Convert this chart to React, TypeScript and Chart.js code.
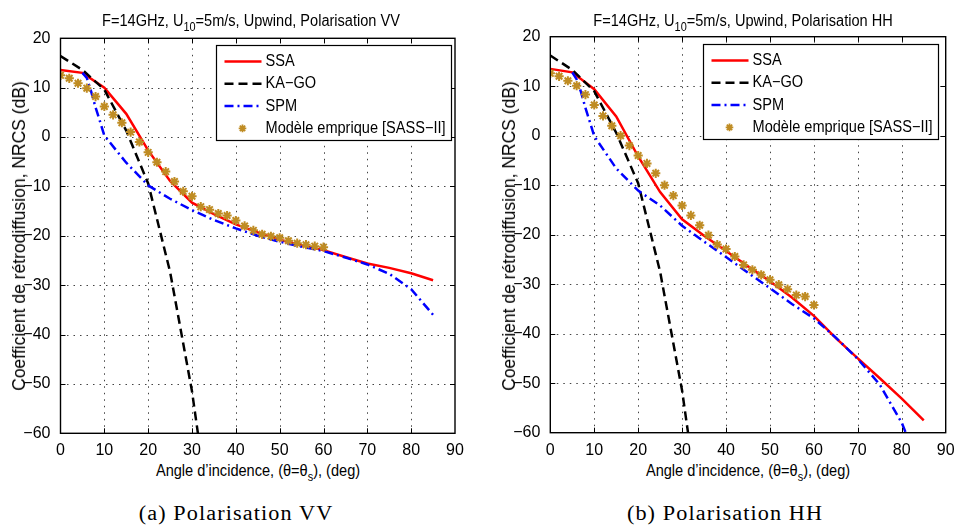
import React, { useEffect, useRef } from 'react';
import { Chart, registerables } from 'chart.js';
Chart.register(...registerables);

// ---------- data ----------
const ssaAngles = [0, 5, 10, 15, 20, 25, 30, 35, 40, 45, 50, 55, 60, 65, 70, 75, 80, 85];
const ssaVV = [13.6, 13.0, 10.0, 4.7, -2.7, -8.9, -13.3, -15.6, -17.7, -19.3, -20.8, -21.9, -22.9, -24.3, -25.6, -26.5, -27.6, -29.0];
const ssaHH = [13.5, 12.8, 9.4, 3.9, -4.2, -11.4, -16.9, -20.2, -23.3, -26.4, -29.4, -32.7, -36.4, -40.9, -45.0, -49.0, -53.1, -57.5];

const kaAngles = [0, 5, 10, 15, 20, 25, 30, 35];
const kaVV = [16.4, 13.6, 9.6, 1.3, -9.4, -27.3, -51.5, -83.0];
const kaHH = [16.2, 13.3, 9.0, 0.6, -9.6, -27.5, -51.5, -83.0];

const spmAngles = [5, 6, 7, 8, 9, 10, 15, 20, 25, 30, 35, 40, 45, 50, 55, 60, 65, 70, 75, 80, 85];
const spmVV = [13.0, 12.0, 9.2, 6.0, 3.2, 0.3, -5.2, -9.8, -12.5, -14.8, -16.8, -18.5, -20.0, -21.2, -22.2, -23.1, -24.4, -25.8, -27.7, -30.8, -36.0];
const spmHH = [12.8, 11.4, 8.8, 5.6, 2.8, -0.1, -6.6, -11.1, -14.1, -18.2, -21.4, -24.5, -27.7, -30.8, -34.0, -36.9, -40.8, -45.1, -50.3, -58.0, -69.0];

const sassAngles = [0, 2, 4, 6, 8, 10, 12, 14, 16, 18, 20, 22, 24, 26, 28, 30, 32, 34, 36, 38, 40, 42, 44, 46, 48, 50, 52, 54, 56, 58, 60];
const sassVV = [12.5, 11.9, 10.9, 9.9, 8.2, 6.2, 4.5, 2.9, 1.0, -1.0, -3.1, -5.1, -7.0, -9.0, -11.0, -12.0, -14.1, -14.7, -15.5, -15.9, -16.9, -18.0, -18.9, -19.7, -20.1, -20.4, -21.0, -21.5, -21.8, -22.1, -22.3];
const sassHH = [12.6, 12.0, 11.1, 10.1, 8.3, 6.2, 4.0, 2.0, 0.0, -2.0, -4.0, -5.6, -7.6, -10.0, -12.1, -14.1, -16.1, -18.1, -20.1, -22.0, -22.9, -24.4, -26.1, -27.1, -28.1, -29.1, -30.1, -31.0, -32.2, -32.5, -34.2];

const xTicks = [0, 10, 20, 30, 40, 50, 60, 70, 80, 90];
const yTicks = [-60, -50, -40, -30, -20, -10, 0, 10, 20];
const legendLabels = ['SSA', 'KA\u2212GO', 'SPM', 'Mod\u00e8le emprique [SASS\u2212II]'];

// ---------- styles ----------
const FONT = '"Liberation Sans", Arial, sans-serif';
const SERIF = '"Liberation Serif", "Times New Roman", serif';
const RED = '#ff0000';
const BLACK = '#000000';
const BLUE = '#0000ff';
const GOLD = 'rgb(191,140,35)';
const KA_DASH = [9, 5];
const SPM_DASH = [9, 4, 2, 4];
const CANVAS_H = 460;

const toPts = (xs: number[], ys: number[]) => xs.map((x, i) => ({ x, y: ys[i] }));
const fmt = (v: any) => String(v).replace('-', '\u2212');

function drawStar(ctx: CanvasRenderingContext2D, x: number, y: number, r: number) {
  ctx.beginPath();
  for (let k = 0; k < 4; k++) {
    const a = (k * Math.PI) / 4;
    ctx.moveTo(x - r * Math.cos(a), y - r * Math.sin(a));
    ctx.lineTo(x + r * Math.cos(a), y + r * Math.sin(a));
  }
  ctx.stroke();
}

const framePlugin = {
  id: 'frame',
  beforeDatasetsDraw(chart: any) {
    const { ctx, chartArea } = chart;
    const { left, right, top, bottom } = chartArea;
    const xs = chart.scales.x, ys = chart.scales.y;
    ctx.save();
    ctx.strokeStyle = '#444';
    ctx.lineWidth = 1;
    ctx.setLineDash([1.5, 5]);
    xTicks.slice(1, -1).forEach((v) => {
      const px = Math.round(xs.getPixelForValue(v)) + 0.5;
      ctx.beginPath(); ctx.moveTo(px, bottom); ctx.lineTo(px, top); ctx.stroke();
    });
    yTicks.slice(1, -1).forEach((v) => {
      const py = Math.round(ys.getPixelForValue(v)) + 0.5;
      ctx.beginPath(); ctx.moveTo(left, py); ctx.lineTo(right, py); ctx.stroke();
    });
    ctx.restore();
  },
  afterDatasetsDraw(chart: any, _args: any, opts: any) {
    const { ctx, chartArea } = chart;
    const { left, right, top, bottom } = chartArea;
    const xs = chart.scales.x, ys = chart.scales.y;
    ctx.save();
    ctx.strokeStyle = '#000';
    ctx.lineWidth = 1.4;
    ctx.setLineDash([]);
    ctx.strokeRect(left, top, right - left, bottom - top);
    ctx.lineWidth = 1;
    const tl = 5;
    xTicks.slice(1, -1).forEach((v) => {
      const px = Math.round(xs.getPixelForValue(v)) + 0.5;
      ctx.beginPath();
      ctx.moveTo(px, bottom); ctx.lineTo(px, bottom - tl);
      ctx.moveTo(px, top); ctx.lineTo(px, top + tl);
      ctx.stroke();
    });
    yTicks.slice(1, -1).forEach((v) => {
      const py = Math.round(ys.getPixelForValue(v)) + 0.5;
      ctx.beginPath();
      ctx.moveTo(left, py); ctx.lineTo(left + tl, py);
      ctx.moveTo(right, py); ctx.lineTo(right - tl, py);
      ctx.stroke();
    });

    // legend
    const bx = Math.round(left + opts.legendX) + 0.5;
    const by = Math.round(top + opts.legendY) + 0.5;
    const bw = 235, bh = 95;
    ctx.fillStyle = '#fff';
    ctx.fillRect(bx, by, bw, bh);
    ctx.strokeStyle = '#000';
    ctx.lineWidth = 1.2;
    ctx.strokeRect(bx, by, bw, bh);
    const rows = [16, 38.3, 60.6, 82.9];
    const styles = [
      { c: RED, d: [] as number[] },
      { c: BLACK, d: KA_DASH },
      { c: BLUE, d: SPM_DASH },
    ];
    styles.forEach((s, i) => {
      ctx.save();
      ctx.strokeStyle = s.c;
      ctx.lineWidth = 2.5;
      ctx.setLineDash(s.d);
      ctx.beginPath();
      ctx.moveTo(bx + 8, by + rows[i]);
      ctx.lineTo(bx + 45, by + rows[i]);
      ctx.stroke();
      ctx.restore();
    });
    ctx.strokeStyle = GOLD;
    ctx.lineWidth = 1.8;
    drawStar(ctx, bx + 26, by + rows[3], 3.8);
    ctx.fillStyle = '#000';
    ctx.font = `16px ${FONT}`;
    ctx.textBaseline = 'middle';
    ctx.textAlign = 'left';
    legendLabels.forEach((lab, i) => {
      ctx.save();
      ctx.translate(bx + 49, by + rows[i]);
      ctx.scale(0.91, 1);
      ctx.fillText(lab, 0, 0);
      ctx.restore();
    });
    ctx.restore();
  },
};

type PanelCfg = {
  canvasLeft: number;
  canvasWidth: number;
  areaLeft: number;
  areaRight: number;
  areaTop: number;
  areaBottom: number;
  legendX: number;
  legendY: number;
  ssa: number[];
  ka: number[];
  spm: number[];
  sass: number[];
};

function Panel({ cfg }: { cfg: PanelCfg }) {
  const ref = useRef<HTMLCanvasElement>(null);
  useEffect(() => {
    const yAxisW = cfg.areaLeft - cfg.canvasLeft;
    const xAxisH = CANVAS_H - cfg.areaBottom;
    const padRight = cfg.canvasLeft + cfg.canvasWidth - cfg.areaRight;
    const chart = new Chart(ref.current as HTMLCanvasElement, {
      type: 'scatter',
      data: {
        datasets: [
          {
            label: legendLabels[3],
            data: toPts(sassAngles, cfg.sass),
            showLine: false,
            pointStyle: 'star',
            pointRadius: 4.6,
            pointBorderWidth: 2,
            pointBorderColor: GOLD,
            pointBackgroundColor: GOLD,
            order: 1,
          },
          {
            label: legendLabels[2],
            data: toPts(spmAngles, cfg.spm),
            showLine: true,
            borderColor: BLUE,
            borderWidth: 2.5,
            borderDash: SPM_DASH,
            pointRadius: 0,
            order: 2,
          },
          {
            label: legendLabels[1],
            data: toPts(kaAngles, cfg.ka),
            showLine: true,
            borderColor: BLACK,
            borderWidth: 2.5,
            borderDash: KA_DASH,
            pointRadius: 0,
            order: 3,
          },
          {
            label: legendLabels[0],
            data: toPts(ssaAngles, cfg.ssa),
            showLine: true,
            borderColor: RED,
            borderWidth: 2.5,
            pointRadius: 0,
            order: 4,
          },
        ],
      } as any,
      options: {
        animation: false,
        responsive: false,
        events: [],
        layout: { padding: { left: 0, top: cfg.areaTop, right: padRight, bottom: 0 } },
        plugins: {
          legend: { display: false },
          tooltip: { enabled: false },
          title: { display: false },
          frame: { legendX: cfg.legendX, legendY: cfg.legendY },
        } as any,
        scales: {
          x: {
            type: 'linear',
            min: 0,
            max: 90,
            afterBuildTicks: (s: any) => { s.ticks = xTicks.map((v) => ({ value: v })); },
            afterFit: (s: any) => { s.height = xAxisH; s.paddingLeft = 0; s.paddingRight = 0; },
            grid: { display: false },
            border: { display: false },
            ticks: { font: { family: FONT, size: 16 }, color: '#000', padding: 0, maxRotation: 0, autoSkip: false, callback: fmt },
          },
          y: {
            type: 'linear',
            min: -60,
            max: 20,
            afterBuildTicks: (s: any) => { s.ticks = yTicks.map((v) => ({ value: v })); },
            afterFit: (s: any) => { s.width = yAxisW; s.paddingTop = 0; s.paddingBottom = 0; },
            grid: { display: false },
            border: { display: false },
            ticks: { font: { family: FONT, size: 16 }, color: '#000', padding: 2, autoSkip: false, callback: fmt },
          },
        } as any,
      },
      plugins: [framePlugin as any],
    });
    return () => chart.destroy();
  }, []);
  return (
    <canvas
      ref={ref}
      width={cfg.canvasWidth}
      height={CANVAS_H}
      style={{ position: 'absolute', left: cfg.canvasLeft, top: 0, width: cfg.canvasWidth, height: CANVAS_H }}
    />
  );
}

function HText({ cx, top, size, children, sx = 0.91, family = FONT, ls = 0 }: any) {
  return (
    <div
      style={{
        position: 'absolute',
        left: cx,
        top,
        fontFamily: family,
        fontSize: size,
        lineHeight: `${size}px`,
        whiteSpace: 'nowrap',
        letterSpacing: ls,
        color: '#000',
        transform: `translateX(-50%) scaleX(${sx})`,
      }}
    >
      {children}
    </div>
  );
}

function YLabel({ cx, cy }: { cx: number; cy: number }) {
  return (
    <div
      style={{
        position: 'absolute',
        left: cx,
        top: cy,
        fontFamily: FONT,
        fontSize: 17.5,
        lineHeight: '18px',
        whiteSpace: 'nowrap',
        color: '#000',
        transform: 'translate(-50%, -50%) rotate(-90deg)',
      }}
    >
      Coefficient de rétrodiffusion, NRCS (dB)
    </div>
  );
}

const sub: React.CSSProperties = { fontSize: 12, position: 'relative', top: 5 };

const panels: { cfg: PanelCfg; titleCx: number; xlabCx: number; ylabCx: number; capCx: number; pol: string; cap: string }[] = [
  {
    cfg: { canvasLeft: 0, canvasWidth: 478, areaLeft: 60.5, areaRight: 455, areaTop: 38.3, areaBottom: 433.3, legendX: 155.5, legendY: 6.7, ssa: ssaVV, ka: kaVV, spm: spmVV, sass: sassVV },
    titleCx: 251, xlabCx: 257.5, ylabCx: 19, capCx: 236, pol: 'VV', cap: '(a) Polarisation VV',
  },
  {
    cfg: { canvasLeft: 490, canvasWidth: 466, areaLeft: 550.3, areaRight: 945.7, areaTop: 36.7, areaBottom: 432.7, legendX: 152.7, legendY: 7.3, ssa: ssaHH, ka: kaHH, spm: spmHH, sass: sassHH },
    titleCx: 743.3, xlabCx: 748.3, ylabCx: 509, capCx: 725, pol: 'HH', cap: '(b) Polarisation HH',
  },
];

export default function App() {
  return (
    <div style={{ position: 'absolute', left: 0, top: 0, width: 956, height: 527, overflow: 'hidden', background: '#fff' }}>
      {panels.map((p, i) => (
        <React.Fragment key={i}>
          <Panel cfg={p.cfg} />
          <HText cx={p.titleCx} top={13} size={16}>
            F=14GHz, U<span style={sub}>10</span>=5m/s, Upwind, Polarisation {p.pol}
          </HText>
          <HText cx={p.xlabCx} top={462.5} size={16}>
            Angle d’incidence, (θ=θ<span style={sub}>s</span>), (deg)
          </HText>
          <YLabel cx={p.ylabCx} cy={236} />
          <HText cx={p.capCx} top={503.3} size={20} family={SERIF} sx={1.11} ls={1}>
            {p.cap}
          </HText>
        </React.Fragment>
      ))}
    </div>
  );
}
